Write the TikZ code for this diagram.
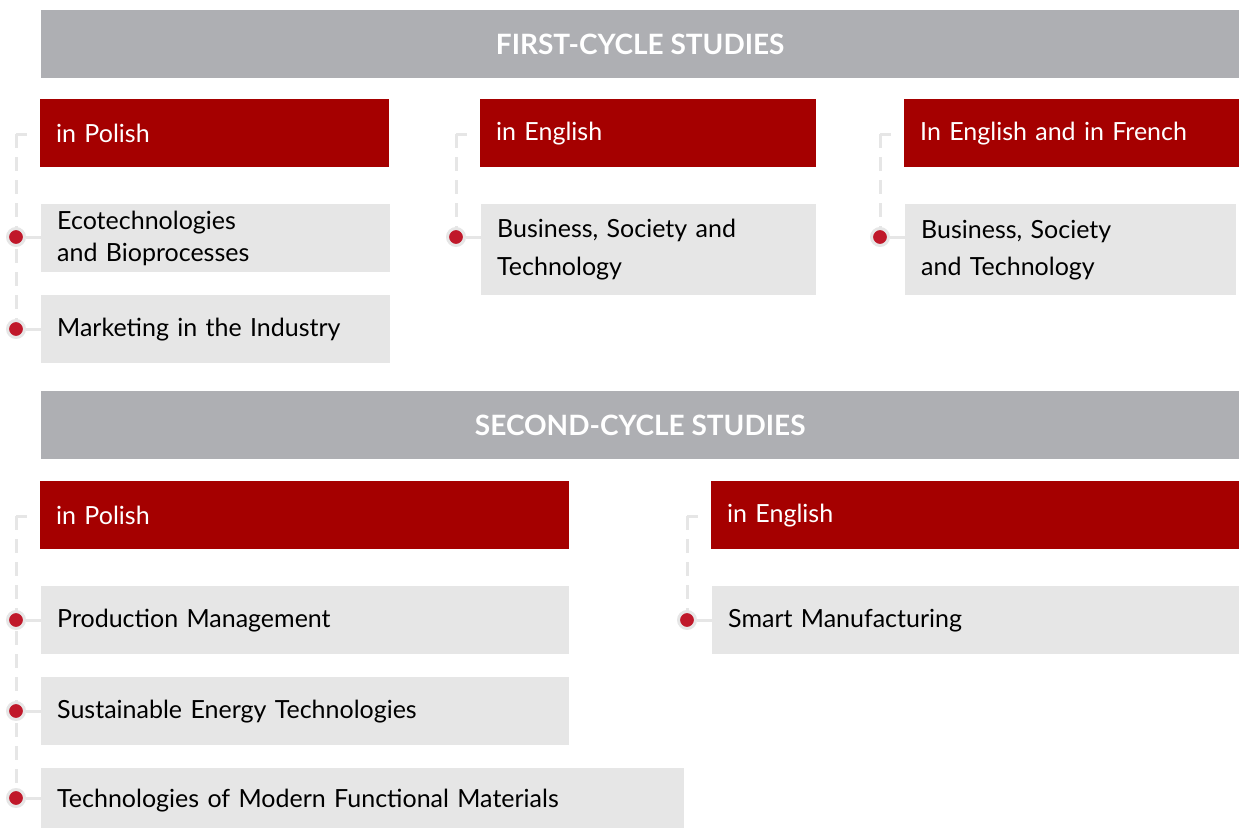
\documentclass[tikz,border=0pt]{standalone}
\usepackage{fontspec}
\setmainfont{Lato}
\definecolor{headgrey}{HTML}{AEAFB3}
\definecolor{boxgrey}{HTML}{E6E6E6}
\definecolor{langred}{HTML}{A50000}
\definecolor{dotred}{HTML}{C0182A}
\tikzstyle{heading}=[anchor=north west, fill=headgrey, text=white, minimum width=1198pt, minimum height=68pt, inner sep=0pt, font=\fontsize{28}{32}\selectfont\bfseries]
\tikzstyle{lang}=[anchor=north west, fill=langred, text=white, minimum height=68pt, inner xsep=16pt, inner ysep=0pt, align=left, font=\fontsize{25}{32}\selectfont]
\tikzstyle{course}=[anchor=north west, fill=boxgrey, text=black, minimum height=68pt, inner xsep=16pt, inner ysep=0pt, align=left, font=\fontsize{25}{32}\selectfont]
\tikzstyle{bullet}=[circle, fill=dotred, draw=boxgrey, line width=3pt, minimum size=17pt, inner sep=0pt]
\tikzstyle{rail}=[boxgrey, line width=3pt, dash pattern=on 14pt off 9pt]
\tikzstyle{twig}=[boxgrey, line width=3pt]

\begin{document}
\begin{tikzpicture}[x=1pt, y=-1pt]
\useasboundingbox (0,0) rectangle (1239,827);
% Headings
    \node[heading] (first) at (41,10) {FIRST-CYCLE STUDIES};
    \node[heading] (second) at (41,391) {SECOND-CYCLE STUDIES};
% Languages
    \node[lang, text width=317pt] (polA) at (40,99) {in Polish};
    \node[lang, text width=304pt] (engA) at (480,99) {in English};
    \node[lang, text width=303pt] (fraA) at (904,99) {In English and in French};
    \node[lang, text width=497pt] (polB) at (40,481) {in Polish};
    \node[lang, text width=496pt] (engB) at (711,481) {in English};
% Rails
    \coordinate (polAtop) at (27,134);
    \coordinate (engAtop) at (467,134);
    \coordinate (fraAtop) at (891,134);
    \coordinate (polBtop) at (27,516);
    \coordinate (engBtop) at (698,516);
    \draw[twig] (polAtop) -- (16,134);
    \draw[twig] (engAtop) -- (456,134);
    \draw[twig] (fraAtop) -- (880,134);
    \draw[twig] (polBtop) -- (16,516);
    \draw[twig] (engBtop) -- (687,516);
    \draw[rail] (16,134) -- (16,329);
    \draw[rail] (456,134) -- (456,237);
    \draw[rail] (880,134) -- (880,237);
    \draw[rail] (16,516) -- (16,798);
    \draw[rail] (687,516) -- (687,620);
% Courses
    \node[course, text width=317pt] (eco) at (41,204) {Ecotechnologies\\and Bioprocesses};
    \node[course, text width=317pt] (mark) at (41,295) {Marketing in the Industry};
    \node[course, text width=303pt, minimum height=91pt, font=\fontsize{25}{38}\selectfont] (bus) at (481,204) {Business, Society and\\Technology};
    \node[course, text width=299pt, minimum height=91pt, font=\fontsize{25}{37}\selectfont] (busfr) at (905,204) {Business, Society\\and Technology};
    \node[course, text width=496pt] (prod) at (41,586) {Production Management};
    \node[course, text width=496pt] (sust) at (41,677) {Sustainable Energy Technologies};
    \node[course, text width=611pt, minimum height=64pt] (tech) at (41,768) {Technologies of Modern Functional Materials};
    \node[course, text width=495pt] (smart) at (712,586) {Smart Manufacturing};
% Bullets
    \node[bullet] (ecodot) at (16,237) {};
    \node[bullet] (markdot) at (16,329) {};
    \node[bullet] (busdot) at (456,237) {};
    \node[bullet] (busfrdot) at (880,237) {};
    \node[bullet] (proddot) at (16,620) {};
    \node[bullet] (sustdot) at (16,711) {};
    \node[bullet] (techdot) at (16,798) {};
    \node[bullet] (smartdot) at (687,620) {};
    \draw[twig] (ecodot) -- (ecodot -| eco.west);
    \draw[twig] (markdot) -- (markdot -| mark.west);
    \draw[twig] (busdot) -- (busdot -| bus.west);
    \draw[twig] (busfrdot) -- (busfrdot -| busfr.west);
    \draw[twig] (proddot) -- (proddot -| prod.west);
    \draw[twig] (sustdot) -- (sustdot -| sust.west);
    \draw[twig] (techdot) -- (techdot -| tech.west);
    \draw[twig] (smartdot) -- (smartdot -| smart.west);
\end{tikzpicture}
\end{document}
